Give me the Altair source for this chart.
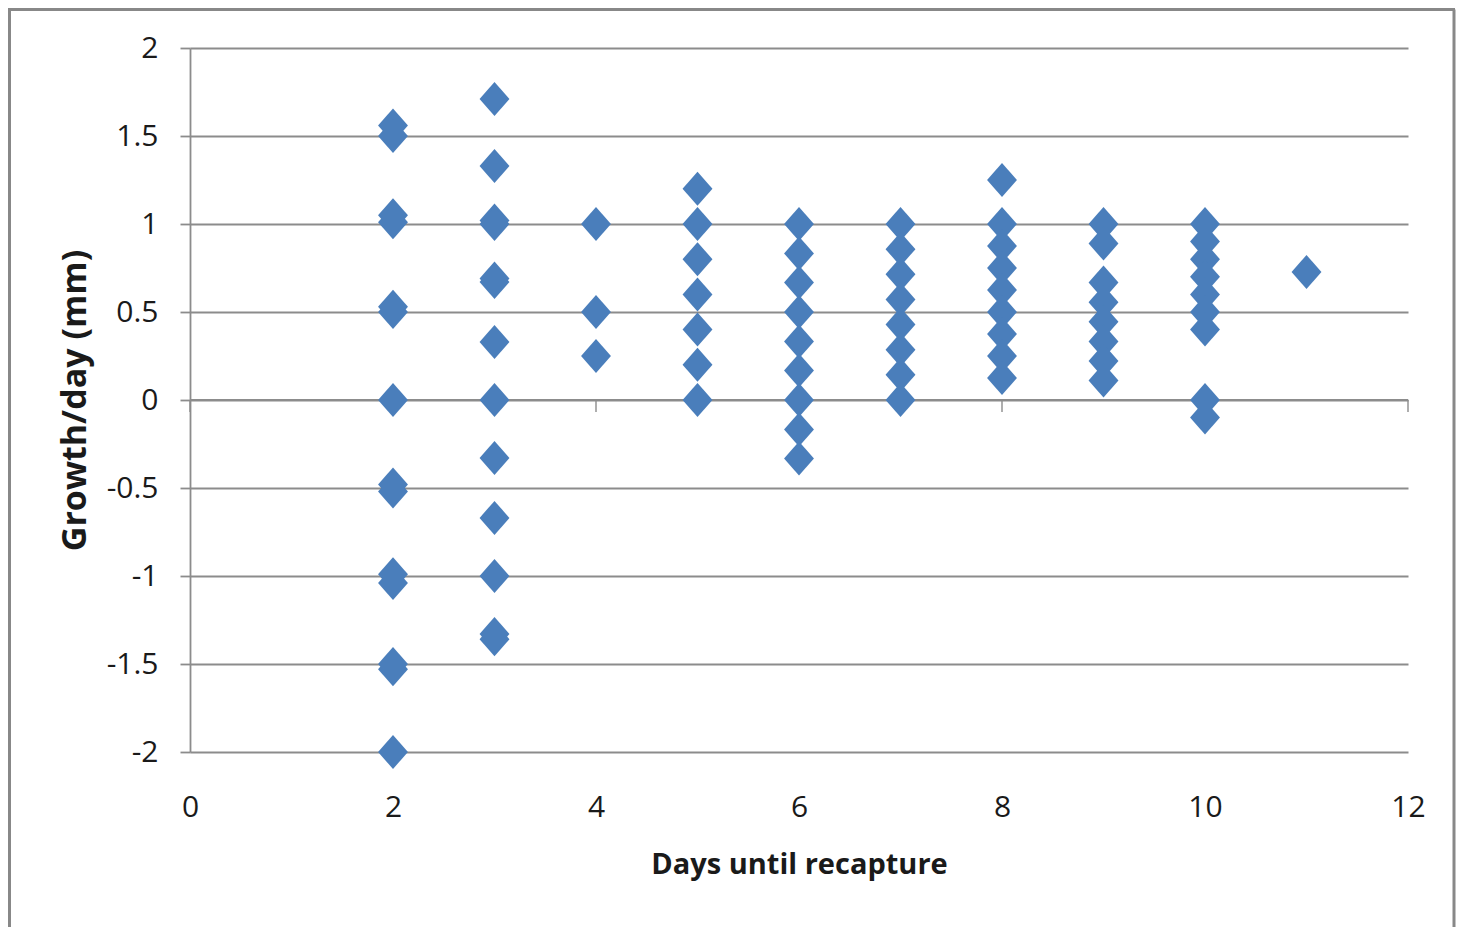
import altair as alt
import pandas as pd

# Growth/day values, per "days until recapture"
day2 = [1.56, 1.5, 1.05, 1.01, 0.53, 0.5, 0.0, -0.48, -0.52, -0.99, -1.04, -1.5, -1.53, -2.0]
day3 = [1.71, 1.33, 1.02, 1.0, 0.69, 0.67, 0.33, 0.0, -0.33, -0.67, -1.0, -1.33, -1.36]
day4 = [1.0, 0.5, 0.25]
day5 = [1.2, 1.0, 0.8, 0.6, 0.4, 0.2, 0.0]
day6 = [1.0, 0.833, 0.667, 0.5, 0.333, 0.167, 0.0, -0.167, -0.333]
day7 = [1.0, 0.857, 0.714, 0.571, 0.429, 0.286, 0.143, 0.0]
day8 = [1.25, 1.0, 0.875, 0.75, 0.625, 0.5, 0.375, 0.25, 0.125]
day9 = [1.0, 0.889, 0.667, 0.556, 0.444, 0.333, 0.222, 0.111]
day10 = [1.0, 0.9, 0.8, 0.7, 0.6, 0.5, 0.4, 0.0, -0.1]
day11 = [0.727]

series = {2: day2, 3: day3, 4: day4, 5: day5, 6: day6, 7: day7,
          8: day8, 9: day9, 10: day10, 11: day11}

x_ticks = [0, 2, 4, 6, 8, 10, 12]
y_ticks = [-2, -1.5, -1, -0.5, 0, 0.5, 1, 1.5, 2]

rows = [{"days": d, "growth": g} for d, vals in series.items() for g in vals]
df = pd.DataFrame(rows)
tick_df = pd.DataFrame({"days": x_ticks})
one = pd.DataFrame({"k": [0]})

FONT = "Open Sans"
GRID = "#8c8c8c"
TEXT = "#1a1a1a"
BLUE = "#4A7EBB"
W, H = 1218, 704
PAD = {"left": 182, "top": 40, "right": 48, "bottom": 175}

xscale = alt.Scale(domain=[0, 12], nice=False, zero=False)
yscale = alt.Scale(domain=[-2, 2], nice=False, zero=False)

x_axis = alt.Axis(
    values=x_ticks, grid=False, domain=False, ticks=False, tickSize=0,
    labelFlush=False, labelOverlap=False,
    labelPadding=40, labelFontSize=30, labelFont=FONT, labelColor=TEXT,
    title="Days until recapture", titleFont=FONT, titleFontSize=29,
    titleFontWeight="bold", titleColor=TEXT, titleY=112, titleBaseline="middle",
)
y_axis = alt.Axis(
    values=y_ticks, grid=True, gridColor=GRID, gridWidth=1.8,
    domain=True, domainColor=GRID, domainWidth=1.8,
    ticks=True, tickSize=10, tickColor=GRID, tickWidth=1.8,
    labelFlush=False, labelOverlap=False,
    labelPadding=22, labelFontSize=30, labelFont=FONT, labelColor=TEXT,
    labelExpr="'' + datum.value",
    title="Growth/day (mm)", titleFont=FONT, titleFontSize=34,
    titleFontWeight="bold", titleColor=TEXT, titleX=-115, titleBaseline="middle",
)

X = alt.X("days:Q", scale=xscale, axis=x_axis)
Y = alt.Y("growth:Q", scale=yscale, axis=y_axis)

points = alt.Chart(df).mark_point(
    shape="M-0.88,0L0,-1L0.88,0L0,1Z", filled=True, size=1156,
    color=BLUE, opacity=1, strokeWidth=0
).encode(x=X, y=Y)

zero_ticks = alt.Chart(tick_df).mark_tick(
    orient="vertical", size=12, thickness=2, color=GRID, yOffset=6
).encode(
    x=X,
    y=alt.datum(0, scale=yscale),
)

zero_line = alt.Chart(one).mark_rule(color=GRID, strokeWidth=1.8).encode(
    y=alt.datum(0), x=alt.value(0), x2=alt.value(W)
)

border_left = alt.Chart(one).mark_rule(color="#888888", strokeWidth=3).encode(
    x=alt.value(-180.5), y=alt.value(-38.5), y2=alt.value(900)
)
border_top = alt.Chart(one).mark_rule(color="#888888", strokeWidth=3).encode(
    x=alt.value(-182), x2=alt.value(1265), y=alt.value(-38.5)
)
border_right = alt.Chart(one).mark_rule(color="#888888", strokeWidth=3).encode(
    x=alt.value(1264), y=alt.value(-38.5), y2=alt.value(900)
)

chart = alt.layer(
    zero_line, zero_ticks, points, border_left, border_top, border_right
).properties(
    width=W, height=H,
    autosize=alt.AutoSizeParams(type="none"),
    padding=PAD,
    background="white",
).configure_view(stroke=None)

chart.save("out.html", embed_options={"renderer": "svg", "actions": False})
